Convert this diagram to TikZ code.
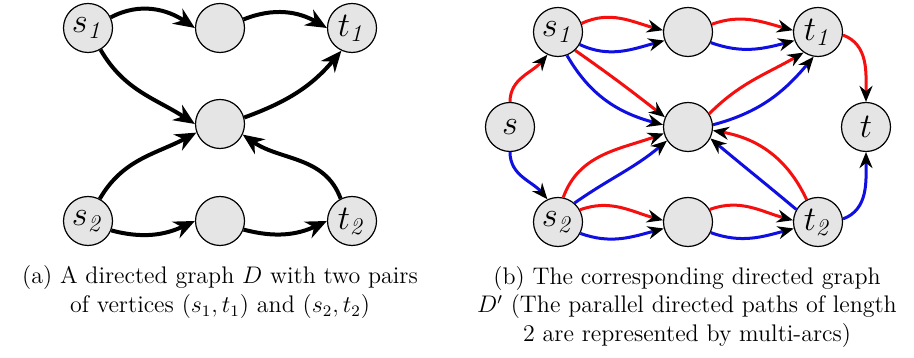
\documentclass[tikz,border=0pt]{standalone}
\usetikzlibrary{arrows.meta}
\definecolor{nodefill}{RGB}{229,229,229}
\definecolor{myred}{RGB}{245,15,15}
\definecolor{myblue}{RGB}{15,15,225}
\begin{document}
\begin{tikzpicture}[x=0.5pt,y=0.5pt,
  vert/.style={circle,draw=black,fill=nodefill,line width=0.6pt,minimum size=24.5pt,inner sep=0pt,font=\fontsize{17}{20}\selectfont},
  blk/.style={line width=2pt,-{Stealth[length=10.5pt,width=9pt]}},
  redarc/.style={line width=1.5pt,draw=myred,-{Stealth[length=8pt,width=6.5pt,color=black]}},
  bluearc/.style={line width=1.5pt,draw=myblue,-{Stealth[length=8pt,width=6.5pt,color=black]}},
  captext/.style={anchor=base,align=center,font=\fontsize{12}{14.5}\selectfont}
]
\useasboundingbox (0,0) rectangle (914,358);
% ---------- left graph ----------
\node[vert] (as1) at (88,330) {$s_{\mathit{1}}$};
\node[vert] (am1) at (220,330) {};
\node[vert] (at1) at (352,330) {$t_{\mathit{1}}$};
\node[vert] (ac)  at (220,234) {};
\node[vert] (as2) at (88,137) {$s_{\mathit{2}}$};
\node[vert] (am2) at (220,137) {};
\node[vert] (at2) at (352,137) {$t_{\mathit{2}}$};
\draw[blk] (as1.25) to[out=28,in=146] (am1.180);
\draw[blk] (am1.20) to[out=22,in=150] (at1.180);
\draw[blk] (as1.-60) to[out=-60,in=147] (ac.180);
\draw[blk] (ac.15) to[out=20,in=-130] (at1.-115);
\draw[blk] (as2.62) to[out=60,in=208] (ac.200);
\draw[blk] (at2.117) to[out=110,in=-35] (ac.-25);
\draw[blk] (as2.-22) to[out=-15,in=205] (am2.180);
\draw[blk] (am2.-20) to[out=-15,in=205] (at2.180);
% ---------- right graph ----------
\node[vert] (bs)  at (510,231) {$s$};
\node[vert] (bs1) at (558,326) {$s_{\mathit{1}}$};
\node[vert] (bm1) at (688,326) {};
\node[vert] (bt1) at (818,326) {$t_{\mathit{1}}$};
\node[vert] (bc)  at (688,231) {};
\node[vert] (bs2) at (558,136) {$s_{\mathit{2}}$};
\node[vert] (bm2) at (688,136) {};
\node[vert] (bt2) at (818,136) {$t_{\mathit{2}}$};
\node[vert] (bt)  at (866,231) {$t$};
\draw[redarc]  (bs.90) to[out=90,in=-130] (bs1.-115);
\draw[bluearc] (bs.-90) to[out=-90,in=130] (bs2.115);
\draw[redarc]  (bt1.-7) to[out=-20,in=90] (bt.90);
\draw[bluearc] (bt2.7) to[out=20,in=-90] (bt.-90);
\draw[redarc]  (bs1.20) to[out=25,in=165] (bm1.176);
\draw[bluearc] (bs1.-30) to[out=-25,in=195] (bm1.200);
\draw[redarc]  (bm1.18) to[out=20,in=165] (bt1.176);
\draw[bluearc] (bm1.-25) to[out=-20,in=195] (bt1.200);
\draw[redarc]  (bs1.-47) to[out=-35,in=142] (bc.157);
\draw[bluearc] (bs1.-69) to[out=-60,in=165] (bc.175);
\draw[redarc]  (bc.32) to[out=45,in=-150] (bt1.-125);
\draw[bluearc] (bc.5) to[out=15,in=-130] (bt1.-100);
\draw[redarc]  (bs2.78) to[out=70,in=200] (bc.195);
\draw[bluearc] (bs2.49) to[out=35,in=220] (bc.213);
\draw[redarc]  (bt2.117) to[out=115,in=-10] (bc.-8);
\draw[bluearc] (bt2.150) to[out=140,in=-40] (bc.-27);
\draw[redarc]  (bs2.29) to[out=20,in=165] (bm2.176);
\draw[bluearc] (bs2.-27) to[out=-20,in=195] (bm2.195);
\draw[redarc]  (bm2.30) to[out=20,in=165] (bt2.176);
\draw[bluearc] (bm2.-25) to[out=-20,in=195] (bt2.195);
% ---------- captions ----------
\node[captext] (capa) at (220,45) {(a) A directed graph $D$ with two pairs\\ of vertices $(s_1,t_1)$ and $(s_2,t_2)$};
\node[captext] (capb) at (687,16) {(b) The corresponding directed graph\\ $D'$ (The parallel directed paths of length\\ 2 are represented by multi-arcs)};
\end{tikzpicture}
\end{document}
